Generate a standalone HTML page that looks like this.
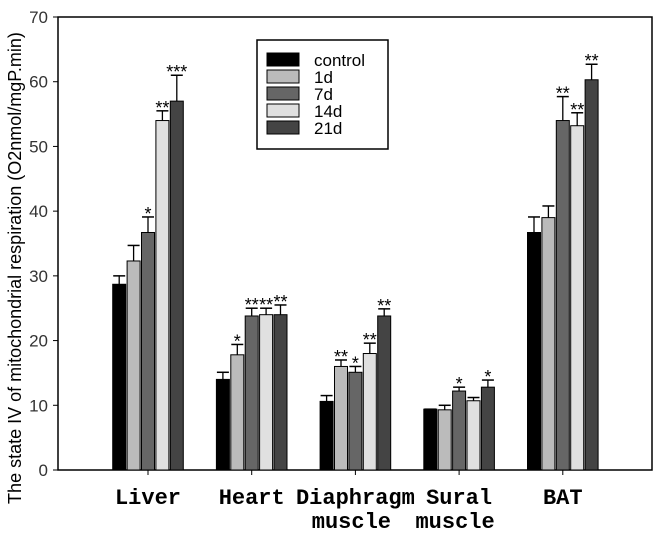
<!DOCTYPE html>
<html><head><meta charset="utf-8"><style>
body{margin:0;background:#fff;}
svg text{font-family:"Liberation Sans",sans-serif;}
</style></head><body>
<svg id="chart" width="655" height="532" xmlns="http://www.w3.org/2000/svg"></svg>
<script>
const categories=["Liver","Heart","Diaphragm|muscle","Sural|muscle","BAT"];
const seriesNames=["control","1d","7d","14d","21d"];
const control=[28.7,14,10.6,9.4,36.7];
const d1=[32.3,17.8,16,9.3,39];
const d7=[36.7,23.8,15.1,12.2,54];
const d14=[54,24,18,10.7,53.2];
const d21=[57,24,23.8,12.8,60.3];
const errControl=[30,15.1,11.5,9.4,39.1];
const errD1=[34.7,19.4,17,10,40.8];
const errD7=[39.1,25,16,12.8,57.7];
const errD14=[55.5,25,19.6,11.2,55.2];
const errD21=[61,25.5,24.9,13.9,62.7];
const stars=[["","","*","**","***"],["","*","**","**","**"],["","**","*","**","**"],["","","*","","*"],["","","**","**","**"]];
const yTicks=[0,10,20,30,40,50,60,70];
const series=[control,d1,d7,d14,d21];
const errs=[errControl,errD1,errD7,errD14,errD21];
const colors=["#000","#bbb","#666","#e0e0e0","#444"];
const NS="http://www.w3.org/2000/svg";
const svg=document.getElementById('chart');
const L=58,R=652,T=17,B=470;
const y=v=>B-(v/70)*(B-T);
const xc=i=>148+i*103.7;
function el(t,a,p){const e=document.createElementNS(NS,t);for(const k in a)e.setAttribute(k,a[k]);(p||svg).appendChild(e);return e;}
let f=el('rect',{x:L,y:T,width:R-L,height:B-T,fill:'none',stroke:'#000','stroke-width':1.5});

yTicks.forEach(v=>{
 const t=el('line',{x1:L-5,x2:L,y1:y(v),y2:y(v),stroke:'#000'});
 
 const l=el('text',{x:L-10,y:y(v)+6,'text-anchor':'end','font-size':17,fill:'#333'});l.textContent=v;
 
});
const bw=13,step=14.4;
categories.forEach((c,i)=>{
 const tk=el('line',{x1:xc(i),x2:xc(i),y1:B,y2:B+5,stroke:'#000'});
 
 c.split('|').forEach((ln,j)=>{
  const t=el('text',{x:xc(i)+(j?-4:0),y:B+34+j*24,'text-anchor':'middle','font-size':22,'font-weight':'bold',style:'font-family:"Liberation Mono",monospace'});t.textContent=ln;
  
 });
 series.forEach((s,k)=>{
  const x0=xc(i)-2*step-bw/2+k*step;
  const cx=x0+bw/2;
  const e=el('line',{x1:cx,x2:cx,y1:y(s[i]),y2:y(errs[k][i]),stroke:'#000','stroke-width':1.3});
  
  const cap=el('line',{x1:cx-6,x2:cx+6,y1:y(errs[k][i]),y2:y(errs[k][i]),stroke:'#000','stroke-width':1.5});
  
  const r=el('rect',{x:x0,y:y(s[i]),width:bw,height:B-y(s[i]),fill:colors[k],stroke:'#000','stroke-width':1});
  
  if(stars[i][k]){const st=el('text',{x:cx,y:y(errs[k][i])+3,'text-anchor':'middle','font-size':18});st.textContent=stars[i][k];
   }
 });
});
const lg=el('g',{});
el('rect',{x:257,y:40,width:131,height:109,fill:'#fff',stroke:'#000','stroke-width':1.5},lg);
seriesNames.forEach((n,k)=>{
 const sw=el('rect',{x:267,y:53+k*17,width:32,height:13,fill:colors[k],stroke:'#000'},lg);
 
 const t=el('text',{x:314,y:66+k*17,'font-size':17},lg);t.textContent=n;
 
});
const yt=el('text',{x:0,y:0,'font-size':18,'text-anchor':'middle',transform:'translate(21,268) rotate(-90)'});
yt.textContent='The state IV of mitochondrial respiration (O2nmol/mgP.min)';

</script>
</body></html>
